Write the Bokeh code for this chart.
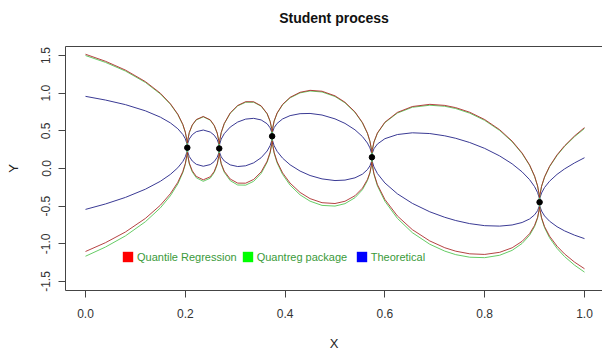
from bokeh.plotting import figure
from bokeh.models import (Range1d, FixedTicker, LinearAxis, Legend, LegendItem,
                          PrintfTickFormatter)
from bokeh.embed import file_html
from bokeh.resources import INLINE

# ---- data ----
x_grid = [0.000, 0.040, 0.080, 0.120, 0.150, 0.170, 0.185, 0.195, 0.200, 0.203, 0.204,
          0.205, 0.208, 0.214, 0.222, 0.236, 0.250, 0.258, 0.264, 0.267, 0.268,
          0.269, 0.272, 0.278, 0.290, 0.305, 0.321, 0.337, 0.352, 0.364, 0.370, 0.373, 0.374,
          0.375, 0.378, 0.384, 0.395, 0.410, 0.430, 0.450, 0.474, 0.500, 0.520, 0.540, 0.555, 0.565, 0.570, 0.573, 0.574,
          0.575, 0.578, 0.585, 0.600, 0.625, 0.655, 0.690, 0.720, 0.742, 0.770, 0.800, 0.830, 0.855, 0.875, 0.890, 0.900, 0.906, 0.909, 0.910,
          0.911, 0.914, 0.920, 0.930, 0.945, 0.960, 0.980, 1.000]

theo_upper = [0.958, 0.909, 0.848, 0.766, 0.682, 0.606, 0.528, 0.452, 0.395, 0.335, 0.276,
              0.336, 0.392, 0.449, 0.489, 0.511, 0.484, 0.442, 0.383, 0.326, 0.266,
              0.327, 0.390, 0.462, 0.550, 0.617, 0.656, 0.666, 0.645, 0.594, 0.540, 0.486, 0.428,
              0.487, 0.542, 0.599, 0.658, 0.702, 0.728, 0.731, 0.710, 0.659, 0.599, 0.514, 0.424, 0.338, 0.274, 0.210, 0.149,
              0.207, 0.262, 0.325, 0.396, 0.451, 0.474, 0.464, 0.434, 0.401, 0.345, 0.267, 0.167, 0.062, -0.045, -0.148, -0.241, -0.320, -0.385, -0.447,
              -0.386, -0.325, -0.252, -0.169, -0.078, -0.006, 0.074, 0.143]
theo_lower = [-0.543, -0.471, -0.384, -0.275, -0.170, -0.079, 0.010, 0.093, 0.155, 0.215, 0.276,
              0.216, 0.159, 0.099, 0.056, 0.030, 0.052, 0.092, 0.150, 0.206, 0.266,
              0.208, 0.154, 0.100, 0.048, 0.026, 0.036, 0.075, 0.143, 0.232, 0.304, 0.367, 0.428,
              0.367, 0.303, 0.228, 0.137, 0.049, -0.034, -0.093, -0.138, -0.160, -0.154, -0.124, -0.075, -0.015, 0.035, 0.090, 0.149,
              0.087, 0.022, -0.067, -0.192, -0.336, -0.463, -0.575, -0.648, -0.691, -0.732, -0.759, -0.765, -0.750, -0.717, -0.670, -0.615, -0.560, -0.505, -0.447,
              -0.507, -0.565, -0.630, -0.700, -0.773, -0.828, -0.885, -0.931]
qr_upper = [1.517, 1.424, 1.307, 1.154, 1.000, 0.861, 0.721, 0.586, 0.484, 0.380, 0.336,
            0.380, 0.479, 0.579, 0.650, 0.691, 0.646, 0.572, 0.470, 0.370, 0.326,
            0.372, 0.478, 0.597, 0.738, 0.837, 0.887, 0.886, 0.832, 0.729, 0.628, 0.531, 0.488,
            0.531, 0.630, 0.737, 0.852, 0.945, 1.012, 1.038, 1.026, 0.965, 0.880, 0.752, 0.610, 0.470, 0.363, 0.255, 0.209,
            0.252, 0.351, 0.472, 0.615, 0.745, 0.823, 0.852, 0.838, 0.808, 0.747, 0.650, 0.515, 0.364, 0.205, 0.047, -0.101, -0.231, -0.340, -0.387,
            -0.341, -0.235, -0.111, 0.029, 0.181, 0.301, 0.432, 0.543]
qr_lower = [-1.102, -0.985, -0.843, -0.663, -0.488, -0.335, -0.183, -0.041, 0.065, 0.170, 0.216,
            0.172, 0.072, -0.031, -0.105, -0.150, -0.110, -0.038, 0.063, 0.162, 0.206,
            0.163, 0.066, -0.035, -0.140, -0.194, -0.195, -0.145, -0.045, 0.097, 0.216, 0.322, 0.368,
            0.322, 0.214, 0.090, -0.058, -0.194, -0.318, -0.400, -0.454, -0.465, -0.435, -0.362, -0.261, -0.146, -0.053, 0.046, 0.089,
            0.042, -0.067, -0.214, -0.411, -0.630, -0.812, -0.962, -1.052, -1.098, -1.133, -1.141, -1.113, -1.053, -0.967, -0.865, -0.755, -0.649, -0.550, -0.507,
            -0.551, -0.654, -0.771, -0.898, -1.032, -1.134, -1.243, -1.331]
pkg_upper = [1.500, 1.409, 1.294, 1.143, 0.990, 0.854, 0.715, 0.582, 0.481, 0.379, 0.296,
             0.379, 0.476, 0.575, 0.645, 0.686, 0.641, 0.568, 0.468, 0.369, 0.286,
             0.371, 0.476, 0.593, 0.732, 0.831, 0.880, 0.880, 0.827, 0.725, 0.625, 0.530, 0.448,
             0.530, 0.628, 0.733, 0.846, 0.938, 1.004, 1.029, 1.016, 0.956, 0.872, 0.745, 0.605, 0.466, 0.360, 0.254, 0.169,
             0.251, 0.348, 0.467, 0.609, 0.736, 0.813, 0.840, 0.826, 0.796, 0.735, 0.639, 0.505, 0.355, 0.198, 0.041, -0.105, -0.234, -0.342, -0.427,
             -0.343, -0.238, -0.115, 0.023, 0.173, 0.292, 0.422, 0.531]
pkg_lower = [-1.165, -1.043, -0.895, -0.707, -0.523, -0.363, -0.205, -0.056, 0.055, 0.165, 0.256,
             0.167, 0.062, -0.046, -0.123, -0.170, -0.128, -0.053, 0.053, 0.157, 0.246,
             0.158, 0.056, -0.050, -0.161, -0.219, -0.221, -0.170, -0.066, 0.082, 0.206, 0.317, 0.408,
             0.317, 0.204, 0.074, -0.079, -0.221, -0.350, -0.434, -0.490, -0.499, -0.467, -0.388, -0.282, -0.161, -0.063, 0.041, 0.129,
             0.037, -0.077, -0.230, -0.435, -0.662, -0.852, -1.006, -1.097, -1.144, -1.178, -1.184, -1.152, -1.087, -0.995, -0.886, -0.771, -0.659, -0.555, -0.467,
             -0.556, -0.664, -0.787, -0.920, -1.061, -1.169, -1.283, -1.376]

obs_x = [0.204, 0.268, 0.374, 0.574, 0.910]
obs_y = [0.276, 0.266, 0.428, 0.149, -0.447]

x_ticks = [0.0, 0.2, 0.4, 0.6, 0.8, 1.0]
y_ticks = [-1.5, -1.0, -0.5, 0.0, 0.5, 1.0, 1.5]
legend_labels = ["Quantile Regression", "Quantreg package", "Theoretical"]
legend_colors = ["#ff0000", "#00ff00", "#0000ff"]

FONT = "Liberation Sans"
RED = "#a82222"
GREEN = "#66cc66"
BLUE = "#3a3a94"
NAN = float("nan")

p = figure(width=602, height=353, output_backend="svg", toolbar_location=None,
           x_range=Range1d(-0.0401, 1.0361), y_range=Range1d(-1.62, 1.62),
           min_border_left=65, min_border_right=0, min_border_top=46, min_border_bottom=60,
           title="Student process")
p.title.text_font = FONT
p.title.text_font_size = "14px"
p.title.text_font_style = "bold"
p.title.align = "center"
p.title.text_color = "#111111"
p.title.standoff = 0

p.outline_line_color = None
p.xgrid.visible = False
p.ygrid.visible = False
p.background_fill_color = "white"
p.border_fill_color = "white"

for ax in (p.xaxis[0], p.yaxis[0]):
    ax.axis_line_color = "#444444"
    ax.major_tick_line_color = "#444444"
    ax.major_tick_out = 7
    ax.major_tick_in = 0
    ax.minor_tick_line_color = None
    ax.major_label_text_font = FONT
    ax.major_label_text_font_size = "12px"
    ax.major_label_text_color = "#333333"
    ax.axis_label_text_font = FONT
    ax.axis_label_text_font_size = "13px"
    ax.axis_label_text_font_style = "normal"
    ax.axis_label_text_color = "#222222"
    ax.formatter = PrintfTickFormatter(format="%.1f")

p.xaxis.ticker = FixedTicker(ticks=x_ticks)
p.yaxis.ticker = FixedTicker(ticks=y_ticks)
p.xaxis.axis_label = "X"
p.yaxis.axis_label = "Y"
p.xaxis.major_label_standoff = 11
p.xaxis.axis_label_standoff = 15
p.yaxis.major_label_standoff = 8
p.yaxis.major_label_orientation = "parallel"
p.yaxis.axis_label_standoff = 18

# top edge of the box (no ticks); its empty label reserves space under the title
top_axis = LinearAxis(ticker=FixedTicker(ticks=[]), axis_line_color="#444444",
                      major_tick_line_color=None, minor_tick_line_color=None,
                      major_label_text_font_size="0px",
                      axis_label=" ", axis_label_text_font_size="2px",
                      axis_label_standoff=16)
p.add_layout(top_axis, "above")

# curves
p.line(x_grid, theo_upper, line_color=BLUE, line_width=1)
p.line(x_grid, theo_lower, line_color=BLUE, line_width=1)
p.line(x_grid, pkg_upper, line_color=GREEN, line_width=1)
p.line(x_grid, pkg_lower, line_color=GREEN, line_width=1)
p.line(x_grid, qr_upper, line_color=RED, line_width=1, line_alpha=0.85)
p.line(x_grid, qr_lower, line_color=RED, line_width=1, line_alpha=0.85)

p.scatter(obs_x, obs_y, size=5.5, marker="circle", fill_color="black", line_color="black")

# legend proxies (not drawn in the plot area)
proxies = [p.quad(left=[NAN], right=[NAN], top=[NAN], bottom=[NAN],
                  fill_color=c, line_color=None) for c in legend_colors]
legend = Legend(items=[LegendItem(label=lab, renderers=[r])
                       for lab, r in zip(legend_labels, proxies)],
                orientation="horizontal", location=(56, 27),
                glyph_width=13, glyph_height=13, label_standoff=3, spacing=4,
                label_width=94, padding=0, margin=0,
                border_line_color=None, background_fill_alpha=0,
                label_text_font=FONT, label_text_font_size="11px",
                label_text_color="#3a9a3a")
p.add_layout(legend, "center")

open("out.html", "w").write(file_html(p, INLINE))
